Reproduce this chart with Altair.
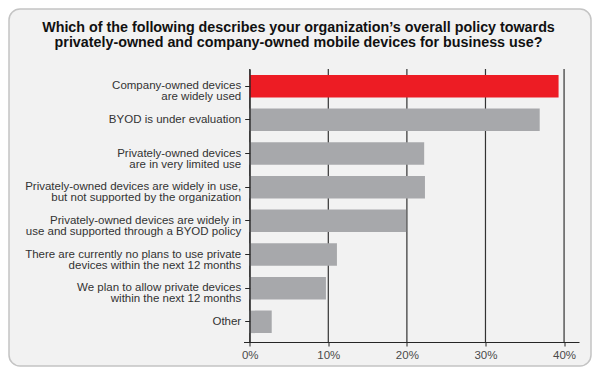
import altair as alt
import pandas as pd

TITLE_LINES = [
    "Which of the following describes your organization\u2019s overall policy towards",
    "privately-owned and company-owned mobile devices for business use?",
]
CATEGORIES = [
    "Company-owned devices\nare widely used",
    "BYOD is under evaluation",
    "Privately-owned devices\nare in very limited use",
    "Privately-owned devices are widely in use,\nbut not supported by the organization",
    "Privately-owned devices are widely in\nuse and supported through a BYOD policy",
    "There are currently no plans to use private\ndevices within the next 12 months",
    "We plan to allow private devices\nwithin the next 12 months",
    "Other",
]
VALUES = [39.3, 36.9, 22.2, 22.3, 19.9, 11.1, 9.7, 2.8]
HIGHLIGHT = [True, False, False, False, False, False, False, False]
TICKS = [0, 10, 20, 30, 40]

RED = "#ed1c24"
GREY = "#a7a8ab"
DARK = "#262626"
FONT = "Liberation Sans"

W, H = 335.5, 273
PAD = {"left": 235.5, "top": 61, "right": 13, "bottom": 25}

bars_df = pd.DataFrame({"category": CATEGORIES, "value": VALUES, "highlight": HIGHLIGHT})
ticks_df = pd.DataFrame({"value": TICKS})
one = alt.Data(values=[{"k": 1}])

xscale = alt.Scale(domain=[-0.79, 41.9], nice=False, zero=False)
xaxis = alt.Axis(
    title=None, values=TICKS, labelExpr="datum.value + '%'",
    labelFont=FONT, labelFontSize=11.5, labelColor="#4a4a4a", labelPadding=3,
    grid=False, domain=True, ticks=True, domainColor=DARK, domainWidth=1,
    tickColor=DARK, tickWidth=1, tickSize=4, zindex=2,
)

background = alt.Chart(one).mark_rect(
    fill="#f2f2f2", stroke="#c4c4c4", strokeWidth=1.5, cornerRadius=11
).encode(
    x=alt.value(-PAD["left"] + 1),
    x2=alt.value(W + PAD["right"] - 1),
    y=alt.value(-PAD["top"] + 1),
    y2=alt.value(H + PAD["bottom"] - 1),
)

title = alt.Chart(one).mark_text(
    font=FONT, fontSize=14.3, fontWeight="bold", color="#111",
    align="center", baseline="alphabetic", lineHeight=15.5,
).encode(
    x=alt.value(55),
    y=alt.value(-37.3),
    text=alt.value(TITLE_LINES),
)

grid = alt.Chart(ticks_df).mark_rule(color="#333333", strokeWidth=1.2).encode(
    x=alt.X("value:Q", scale=xscale, axis=xaxis),
    y=alt.value(0),
    y2=alt.value(H),
)

bars = alt.Chart(bars_df).mark_bar().encode(
    y=alt.Y(
        "category:N",
        sort=CATEGORIES,
        scale=alt.Scale(domain=CATEGORIES, paddingInner=0.332, paddingOuter=0.22, align=0.4),
        axis=alt.Axis(
            title=None,
            labelExpr="split(datum.label, '\\n')",
            labelFont=FONT, labelFontSize=11.5, labelLineHeight=11, labelColor="#333333",
            labelLimit=400, labelPadding=4,
            domain=True, ticks=True, domainColor=DARK, domainWidth=1,
            tickColor=DARK, tickWidth=1, tickSize=5, offset=-6.2, zindex=2,
        ),
    ),
    x=alt.X("value:Q", scale=xscale, axis=xaxis),
    x2=alt.datum(0),
    color=alt.condition(alt.datum.highlight, alt.value(RED), alt.value(GREY)),
)

chart = alt.layer(background, title, grid, bars).properties(
    width=W, height=H, padding=PAD, background="white",
    autosize=alt.AutoSizeParams(type="none"),
).configure_view(stroke=None)

chart.save("out.html", embed_options={"renderer": "svg", "actions": False})
